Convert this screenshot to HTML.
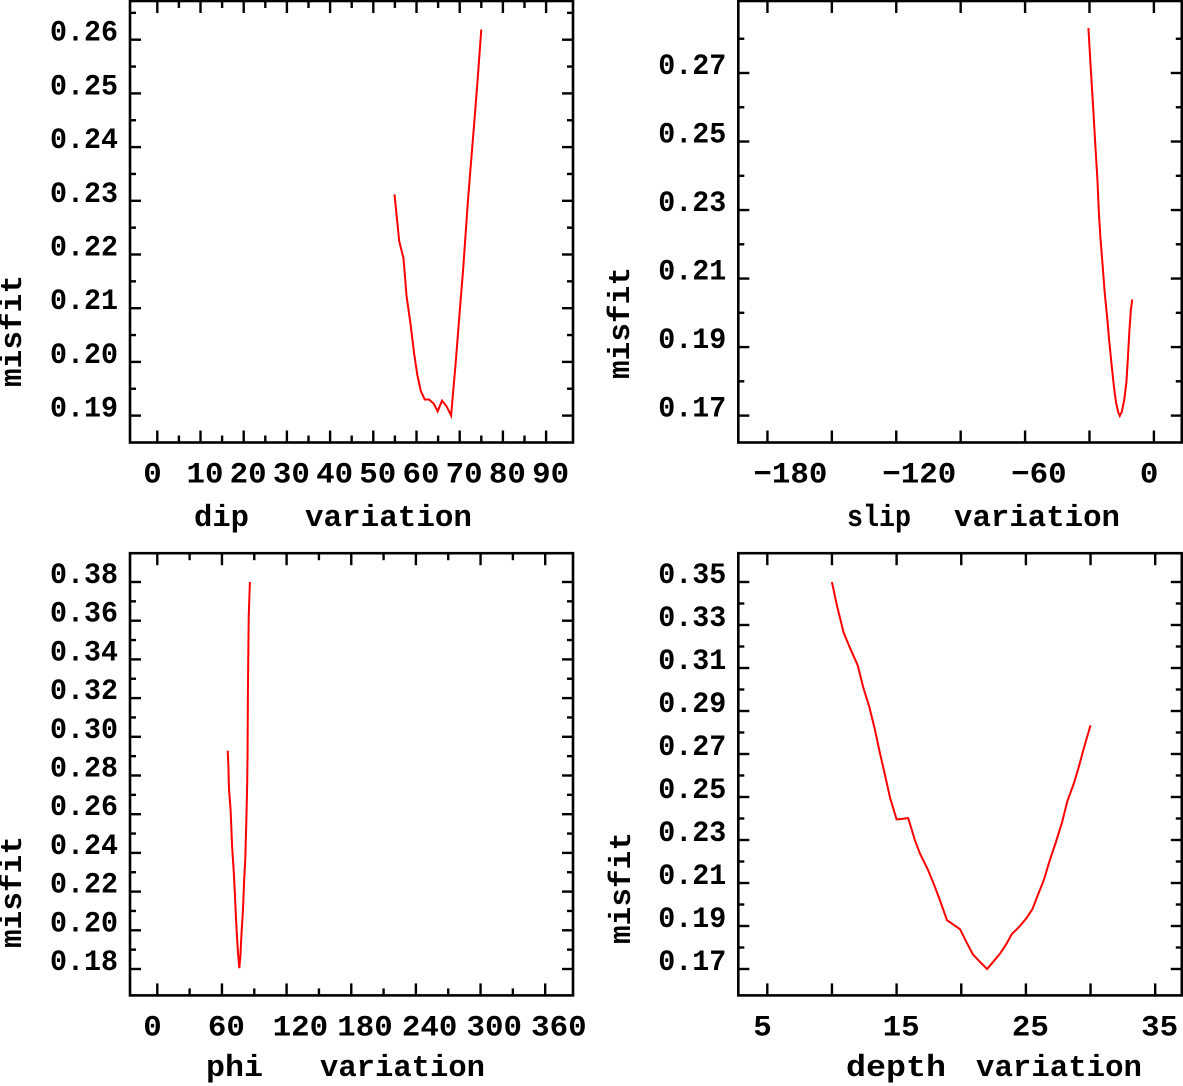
<!DOCTYPE html>
<html>
<head>
<meta charset="utf-8">
<style>
  html,body{margin:0;padding:0;background:#fff;}
  svg{display:block;}
  text{font-family:"Liberation Mono","DejaVu Sans Mono",monospace;font-weight:bold;fill:#000;}
</style>
</head>
<body>
<svg id="chart" width="1183" height="1086" viewBox="0 0 1183 1086" xmlns="http://www.w3.org/2000/svg"></svg>
<script>
// ---- Panel 1: dip variation ----
const dipX = [54.9,56.0,57.0,57.7,58.6,59.5,60.2,61.0,61.9,62.9,64.0,64.9,65.9,67.0,68.0,69.1,69.9,70.8,71.8,72.5,73.4,74.1,75.0];
const dipY = [0.2312,0.2225,0.2193,0.2122,0.2071,0.2013,0.1975,0.1946,0.1930,0.1930,0.1922,0.1908,0.1928,0.1917,0.1900,0.2001,0.2084,0.2174,0.2289,0.2360,0.2449,0.2520,0.2619];
const dipXTicks = [0,10,20,30,40,50,60,70,80,90];
const dipXMinor = [5,15,25,35,45,55,65,75,85];
const dipXLabels = ["0","10","20","30","40","50","60","70","80","90"];
const dipYTicks = [0.19,0.20,0.21,0.22,0.23,0.24,0.25,0.26];
const dipYMinor = [0.195,0.205,0.215,0.225,0.235,0.245,0.255,0.265];
const dipYLabels = ["0.19","0.20","0.21","0.22","0.23","0.24","0.25","0.26"];

// ---- Panel 2: slip variation ----
const slipX = [-30.5,-29.4,-28.4,-27.3,-26.3,-25.6,-24.9,-23.9,-22.9,-21.8,-20.8,-19.7,-18.7,-17.6,-16.6,-15.9,-14.9,-13.8,-12.8,-12.1,-11.4,-10.7,-10.1];
const slipY = [0.2831,0.2712,0.2612,0.2491,0.2390,0.2290,0.2220,0.2140,0.2059,0.1989,0.1918,0.1848,0.1788,0.1737,0.1709,0.1699,0.1712,0.1747,0.1797,0.1869,0.1948,0.2009,0.2039];
const slipXTicks = [-180,-150,-120,-90,-60,-30,0];
const slipXMinor = [];
const slipXLabelVals = [-180,-120,-60,0];
const slipXLabels = ["\u2212180","\u2212120","\u221260","0"];
const slipYTicks = [0.17,0.19,0.21,0.23,0.25,0.27];
const slipYMinor = [0.18,0.20,0.22,0.24,0.26,0.28];
const slipYLabels = ["0.17","0.19","0.21","0.23","0.25","0.27"];

// ---- Panel 3: phi variation ----
const phiX = [65.3,66.0,66.5,68.0,68.8,69.4,70.8,71.9,72.9,74.0,75.0,76.1,77.1,78.1,79.5,80.6,81.7,82.7,83.4,83.8,84.1,84.8,85.9];
const phiY = [0.2928,0.2847,0.2730,0.2622,0.2523,0.2433,0.2316,0.2199,0.2082,0.1965,0.1876,0.1804,0.1867,0.1983,0.2109,0.2253,0.2370,0.2577,0.2757,0.2937,0.3224,0.3620,0.3800];
const phiXTicks = [0,60,120,180,240,300,360];
const phiXMinor = [30,90,150,210,270,330];
const phiXLabels = ["0","60","120","180","240","300","360"];
const phiYTicks = [0.18,0.20,0.22,0.24,0.26,0.28,0.30,0.32,0.34,0.36,0.38];
const phiYMinor = [0.19,0.21,0.23,0.25,0.27,0.29,0.31,0.33,0.35,0.37];
const phiYLabels = ["0.18","0.20","0.22","0.24","0.26","0.28","0.30","0.32","0.34","0.36","0.38"];

// ---- Panel 4: depth variation ----
const depthX = [10.0,10.4,10.9,11.4,12.0,12.4,12.9,13.3,13.7,14.1,14.5,15.0,15.5,15.9,16.4,16.8,17.4,17.9,18.4,18.9,19.4,19.9,20.4,20.9,21.4,22.0,22.5,23.0,23.5,23.9,24.5,25.0,25.5,25.9,26.4,26.8,27.3,27.8,28.2,28.7,29.1,29.5,30.0];
const depthY = [0.3500,0.3387,0.3265,0.3192,0.3111,0.3014,0.2917,0.2820,0.2707,0.2602,0.2496,0.2396,0.2399,0.2402,0.2302,0.2237,0.2165,0.2092,0.2011,0.1927,0.1906,0.1885,0.1825,0.1768,0.1736,0.1700,0.1736,0.1771,0.1817,0.1862,0.1897,0.1933,0.1978,0.2040,0.2116,0.2197,0.2286,0.2383,0.2480,0.2561,0.2642,0.2731,0.2833];
const depthXTicks = [5,10,15,20,25,30,35];
const depthXMinor = [];
const depthXLabelVals = [5,15,25,35];
const depthXLabels = ["5","15","25","35"];
const depthYTicks = [0.17,0.19,0.21,0.23,0.25,0.27,0.29,0.31,0.33,0.35];
const depthYMinor = [0.18,0.20,0.22,0.24,0.26,0.28,0.30,0.32,0.34];
const depthYLabels = ["0.17","0.19","0.21","0.23","0.25","0.27","0.29","0.31","0.33","0.35"];

const NS = "http://www.w3.org/2000/svg";
const svg = document.getElementById("chart");

function mk(tag, attrs, parent) {
  const e = document.createElementNS(NS, tag);
  for (const k in attrs) e.setAttribute(k, attrs[k]);
  parent.appendChild(e);
  return e;
}

function drawPanel(p) {
  const g = mk("g", {}, svg);
  
  

  const frame = mk("rect", {x:p.L, y:p.T, width:p.R-p.L, height:p.B-p.T, fill:"none", stroke:"#000", "stroke-width":2.6}, g);
  
  

  const ticks = mk("g", {stroke:"#000", "stroke-width":2.4}, g);
  
  
  p.yMaj.forEach(v => {
    const y = p.sy(v);
    mk("line", {x1:p.L, x2:p.L+11, y1:y, y2:y}, ticks);
    mk("line", {x1:p.R, x2:p.R-11, y1:y, y2:y}, ticks);
  });
  p.yMin.forEach(v => {
    const y = p.sy(v);
    if (y < p.T + 2 || y > p.B - 2) return;
    mk("line", {x1:p.L, x2:p.L+6, y1:y, y2:y}, ticks);
    mk("line", {x1:p.R, x2:p.R-6, y1:y, y2:y}, ticks);
  });
  p.xMaj.forEach(v => {
    const x = p.sx(v);
    mk("line", {x1:x, x2:x, y1:p.B, y2:p.B-12}, ticks);
    mk("line", {x1:x, x2:x, y1:p.T, y2:p.T+12}, ticks);
  });
  p.xMin.forEach(v => {
    const x = p.sx(v);
    mk("line", {x1:x, x2:x, y1:p.B, y2:p.B-7}, ticks);
    mk("line", {x1:x, x2:x, y1:p.T, y2:p.T+7}, ticks);
  });

  p.yMaj.forEach((v, i) => {
    const t = mk("text", {x:p.L-12, y:p.sy(v)+1, "text-anchor":"end", "font-size":30, textLength:68, lengthAdjust:"spacingAndGlyphs"}, g);
    t.textContent = p.yLab[i];
    
    
  });
  p.xLabVals.forEach((v, i) => {
    const s = p.xLab[i];
    const t = mk("text", {x:p.sx(v)-14, y:p.B+40, "text-anchor":"start", "font-size":30, textLength:s.length*18.5, lengthAdjust:"spacingAndGlyphs"}, g);
    t.textContent = s;
    
    
  });

  const yt = mk("text", {x:0, y:0, "text-anchor":"middle", "font-size":31, textLength:112, lengthAdjust:"spacingAndGlyphs", transform:"translate(" + p.yTitleX + "," + p.yTitleY + ") rotate(-90)"}, g);
  yt.textContent = "misfit";
  
  

  const t1 = mk("text", {x:p.t1[0], y:p.tBase, "font-size":31, textLength:p.t1[1], lengthAdjust:"spacingAndGlyphs"}, g);
  t1.textContent = p.t1[2];
  
  
  const t2 = mk("text", {x:p.t2[0], y:p.tBase, "font-size":31, textLength:p.t2[1], lengthAdjust:"spacingAndGlyphs"}, g);
  t2.textContent = "variation";
  
  

  const pts = p.xs.map((v, i) => p.sx(v).toFixed(1) + "," + p.sy(p.ys[i]).toFixed(1)).join(" ");
  const line = mk("polyline", {points:pts, fill:"none", stroke:"#ff0000", "stroke-width":2, "stroke-linejoin":"miter"}, g);
  
  
}

drawPanel({name:"dip", L:130, R:573, T:1, B:442.5,
  sx:v => 157.3 + v*4.32, sy:v => 415.6 - (v-0.19)*5370,
  xMaj:dipXTicks, xMin:dipXMinor, xLabVals:dipXTicks, xLab:dipXLabels,
  yMaj:dipYTicks, yMin:dipYMinor, yLab:dipYLabels,
  xs:dipX, ys:dipY, yTitleX:21, yTitleY:331, tBase:526,
  t1:[194,55,"dip"], t2:[305,167]});

drawPanel({name:"slip", L:738.3, R:1181.8, T:1, B:442.5,
  sx:v => 1153.9 + v*2.147, sy:v => 415.6 - (v-0.17)*3426,
  xMaj:slipXTicks, xMin:slipXMinor, xLabVals:slipXLabelVals, xLab:slipXLabels,
  yMaj:slipYTicks, yMin:slipYMinor, yLab:slipYLabels,
  xs:slipX, ys:slipY, yTitleX:629, yTitleY:323, tBase:526,
  t1:[847,64,"slip"], t2:[954,166]});

drawPanel({name:"phi", L:130, R:573, T:553.2, B:995.4,
  sx:v => 157.3 + v*1.0775, sy:v => 969 - (v-0.18)*1935,
  xMaj:phiXTicks, xMin:phiXMinor, xLabVals:phiXTicks, xLab:phiXLabels,
  yMaj:phiYTicks, yMin:phiYMinor, yLab:phiYLabels,
  xs:phiX, ys:phiY, yTitleX:21, yTitleY:892, tBase:1076,
  t1:[206,57,"phi"], t2:[320,165]});

drawPanel({name:"depth", L:738.3, R:1181.8, T:553.2, B:995.4,
  sx:v => 767.3 + (v-5)*12.93, sy:v => 969 - (v-0.17)*2150,
  xMaj:depthXTicks, xMin:depthXMinor, xLabVals:depthXLabelVals, xLab:depthXLabels,
  yMaj:depthYTicks, yMin:depthYMinor, yLab:depthYLabels,
  xs:depthX, ys:depthY, yTitleX:630, yTitleY:888, tBase:1076,
  t1:[846,100,"depth"], t2:[976,166]});
</script>
</body>
</html>
